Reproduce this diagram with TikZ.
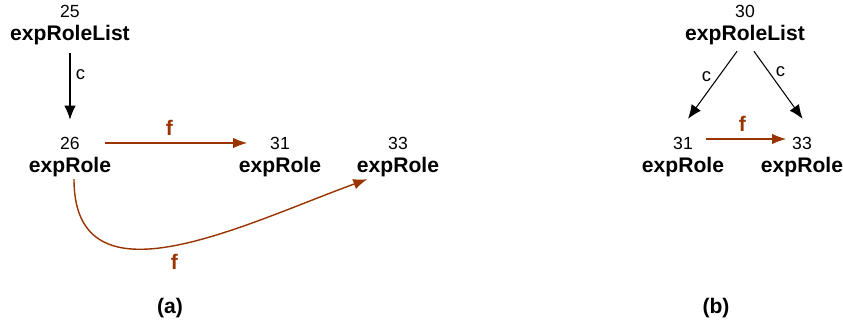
\documentclass[tikz,border=0pt]{standalone}
\usepackage{fontspec}
\setmainfont{Liberation Sans}
\usetikzlibrary{arrows.meta,positioning}
\definecolor{fbrown}{RGB}{153,51,0}
\tikzset{
  num/.style={inner sep=1pt,font=\fontsize{10}{12}\selectfont},
  lbl/.style={inner sep=1pt,font=\fontsize{12}{14}\selectfont\bfseries},
  carr/.style={draw,semithick,-{Latex[length=8pt,width=6.5pt]}},
  farr/.style={draw,fbrown,thick,-{Latex[length=8pt,width=6pt]}},
  clab/.style={inner sep=1pt,font=\fontsize{10.5}{12}\selectfont},
  flab/.style={inner sep=1pt,text=fbrown,font=\fontsize{12}{14}\selectfont\bfseries}
}

\begin{document}
\begin{tikzpicture}
    \useasboundingbox (0,0) rectangle (16.86,6.58);

    % (a)
    \node[num] (n25) at (1.40,6.36) {25};
    \node[lbl,below=0.08cm of n25] (l25) {expRoleList};

    \node[num] (n26) at (1.40,3.72) {26};
    \node[lbl,below=0.08cm of n26] (l26) {expRole};

    \node[num] (n31) at (5.60,3.72) {31};
    \node[lbl,below=0.08cm of n31] (l31) {expRole};

    \node[num] (n33) at (7.96,3.72) {33};
    \node[lbl,below=0.08cm of n33] (l33) {expRole};

    \draw[carr,shorten <=0.12cm,shorten >=0.3cm] (l25) -- node[clab,right=2pt,pos=0.31] {c} (n26);
    \draw[farr,shorten <=0.46cm,shorten >=0.42cm] (n26) -- node[flab,above=0.1cm,pos=0.47] {f} (n31);
    \draw[farr] ([xshift=0.08cm]l26.south) to[out=-90,in=200,looseness=1.15]
        node[flab,below=0.12cm,pos=0.5] {f} ([xshift=0.25cm]l33.south west);

    \node[lbl] (capa) at (3.40,0.42) {(a)};

    % (b)
    \node[num] (n30) at (14.90,6.36) {30};
    \node[lbl,below=0.08cm of n30] (l30) {expRoleList};

    \node[num] (m31) at (13.66,3.72) {31};
    \node[lbl,below=0.08cm of m31] (ml31) {expRole};

    \node[num] (m33) at (16.04,3.72) {33};
    \node[lbl,below=0.08cm of m33] (ml33) {expRole};

    \draw[carr,shorten <=0.1cm,shorten >=0.39cm] ([xshift=-0.1cm]l30.south) --
        node[clab,above left=0pt,pos=0.42] {c} ([xshift=-0.13cm]m31.north);
    \draw[carr,shorten <=0.1cm,shorten >=0.39cm] ([xshift=0.12cm]l30.south) --
        node[clab,above right=0pt,pos=0.36] {c} ([xshift=0.24cm]m33.north);
    \draw[farr,shorten <=0.22cm,shorten >=0.08cm] ([yshift=0.08cm]m31.east) --
        node[flab,above=0.1cm] {f} ([yshift=0.08cm]m33.west);

    \node[lbl] (capb) at (14.32,0.42) {(b)};
\end{tikzpicture}
\end{document}
